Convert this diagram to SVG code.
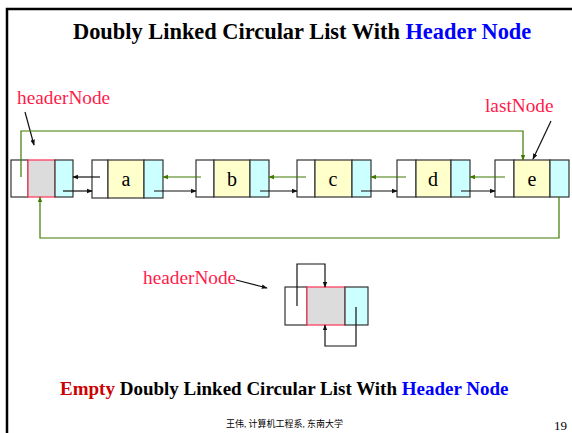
<svg xmlns="http://www.w3.org/2000/svg" width="572" height="433" viewBox="0 0 572 433">
<defs>
<marker id="ab" viewBox="0 0 8 8" refX="7" refY="4" markerWidth="6" markerHeight="6" orient="auto" markerUnits="userSpaceOnUse"><path d="M0,1 L8,4 L0,7 z" fill="#111"/></marker>
<marker id="ag" viewBox="0 0 8 8" refX="7" refY="4" markerWidth="6" markerHeight="6" orient="auto" markerUnits="userSpaceOnUse"><path d="M0,1 L8,4 L0,7 z" fill="#3f7a00"/></marker>
</defs>
<style>
.w{fill:#fff;stroke:#333;stroke-width:1.2}
.y{fill:#ffffcc;stroke:#333;stroke-width:1.2}
.c{fill:#ccffff;stroke:#333;stroke-width:1.2}
.g{fill:#dcdcdc;stroke:#ff3355;stroke-width:1.2}
.lt{font-family:"Liberation Serif",serif;font-size:20px;text-anchor:middle;fill:#000}
.lbl{font-family:"Liberation Serif",serif;font-size:19.3px;fill:#ff1a4a}
.bk{fill:none;stroke:#111;stroke-width:1.2}
.gn{fill:none;stroke:#3f7a00;stroke-width:1.2}
</style>
<rect width="572" height="433" fill="#fff"/>
<path d="M7,433 V9 H572" fill="none" stroke="#000" stroke-width="2.5"/>
<text x="73" y="39" font-family="Liberation Serif,serif" font-size="22.4" font-weight="bold" fill="#000">Doubly Linked Circular List With <tspan fill="#0000ff">Header Node</tspan></text>

<g id="headerNode">
<rect class="w" x="11" y="160" width="17" height="37"/>
<rect class="g" x="28" y="160" width="27" height="37"/>
<rect class="c" x="55" y="160" width="18" height="37"/>
</g>
<g id="nodeA">
<rect class="w" x="92" y="160" width="16" height="38"/>
<rect class="y" x="108" y="160" width="36" height="38"/>
<rect class="c" x="144" y="160" width="19" height="38"/>
<text class="lt" x="126" y="186">a</text>
</g>
<g id="nodeB">
<rect class="w" x="196" y="160" width="18" height="37"/>
<rect class="y" x="214" y="160" width="36" height="37"/>
<rect class="c" x="250" y="160" width="19" height="37"/>
<text class="lt" x="232" y="186">b</text>
</g>
<g id="nodeC">
<rect class="w" x="297" y="160" width="18" height="37"/>
<rect class="y" x="315" y="160" width="37" height="37"/>
<rect class="c" x="352" y="160" width="19" height="37"/>
<text class="lt" x="333" y="186">c</text>
</g>
<g id="nodeD">
<rect class="w" x="397" y="160" width="19" height="37"/>
<rect class="y" x="416" y="160" width="35" height="37"/>
<rect class="c" x="451" y="160" width="19" height="37"/>
<text class="lt" x="433" y="186">d</text>
</g>
<g id="nodeE">
<rect class="w" x="495" y="160" width="19" height="37"/>
<rect class="y" x="514" y="160" width="36" height="37"/>
<rect class="c" x="550" y="160" width="19" height="37"/>
<text class="lt" x="532" y="186">e</text>
</g>
<g id="emptyHeader">
<rect class="w" x="285" y="287" width="22" height="38"/>
<rect class="g" x="307" y="287" width="38" height="38"/>
<rect class="c" x="345" y="287" width="23" height="38"/>
</g>

<g id="labels">
<text class="lbl" x="17" y="104">headerNode</text>
<text class="lbl" x="485" y="112">lastNode</text>
<text class="lbl" x="143" y="284">headerNode</text>
</g>

<g id="connectors">
<line class="bk" x1="25" y1="112" x2="34" y2="145" marker-end="url(#ab)"/>
<line class="bk" x1="551" y1="121" x2="533" y2="159" marker-end="url(#ab)"/>
<line class="bk" x1="236" y1="280" x2="267" y2="288" marker-end="url(#ab)"/>
<line class="bk" x1="63" y1="191" x2="92" y2="191" marker-end="url(#ab)"/>
<line class="bk" x1="154" y1="191" x2="196" y2="191" marker-end="url(#ab)"/>
<line class="bk" x1="260" y1="191" x2="297" y2="191" marker-end="url(#ab)"/>
<line class="bk" x1="361" y1="191" x2="397" y2="191" marker-end="url(#ab)"/>
<line class="bk" x1="461" y1="191" x2="495" y2="191" marker-end="url(#ab)"/>
<line class="bk" x1="100" y1="177" x2="73" y2="177" marker-end="url(#ab)"/>
<line class="gn" x1="201" y1="177" x2="163" y2="177" marker-end="url(#ag)"/>
<line class="gn" x1="306" y1="177" x2="269" y2="177" marker-end="url(#ag)"/>
<line class="gn" x1="406" y1="177" x2="371" y2="177" marker-end="url(#ag)"/>
<line class="gn" x1="505" y1="177" x2="470" y2="177" marker-end="url(#ag)"/>
<polyline class="gn" points="21,177 21,131 523,131 523,160" marker-end="url(#ag)"/>
<polyline class="gn" points="559,197 559,238 40,238 40,197" marker-end="url(#ag)"/>
<polyline class="bk" points="297,306 297,264 325,264 325,287" marker-end="url(#ab)"/>
<polyline class="bk" points="356,307 356,346 325,346 325,325" marker-end="url(#ab)"/>
</g>

<text x="60" y="395" font-family="Liberation Serif,serif" font-size="19" font-weight="bold" fill="#000"><tspan fill="#cc0000">Empty</tspan> Doubly Linked Circular List With <tspan fill="#0000ff">Header Node</tspan></text>
<text x="226" y="427" font-family="Liberation Serif,'Noto Sans CJK SC',serif" font-size="9" fill="#000">王伟, 计算机工程系, 东南大学</text>
<text x="567" y="430" text-anchor="end" font-family="Liberation Serif,serif" font-size="13" fill="#000">19</text>
</svg>
